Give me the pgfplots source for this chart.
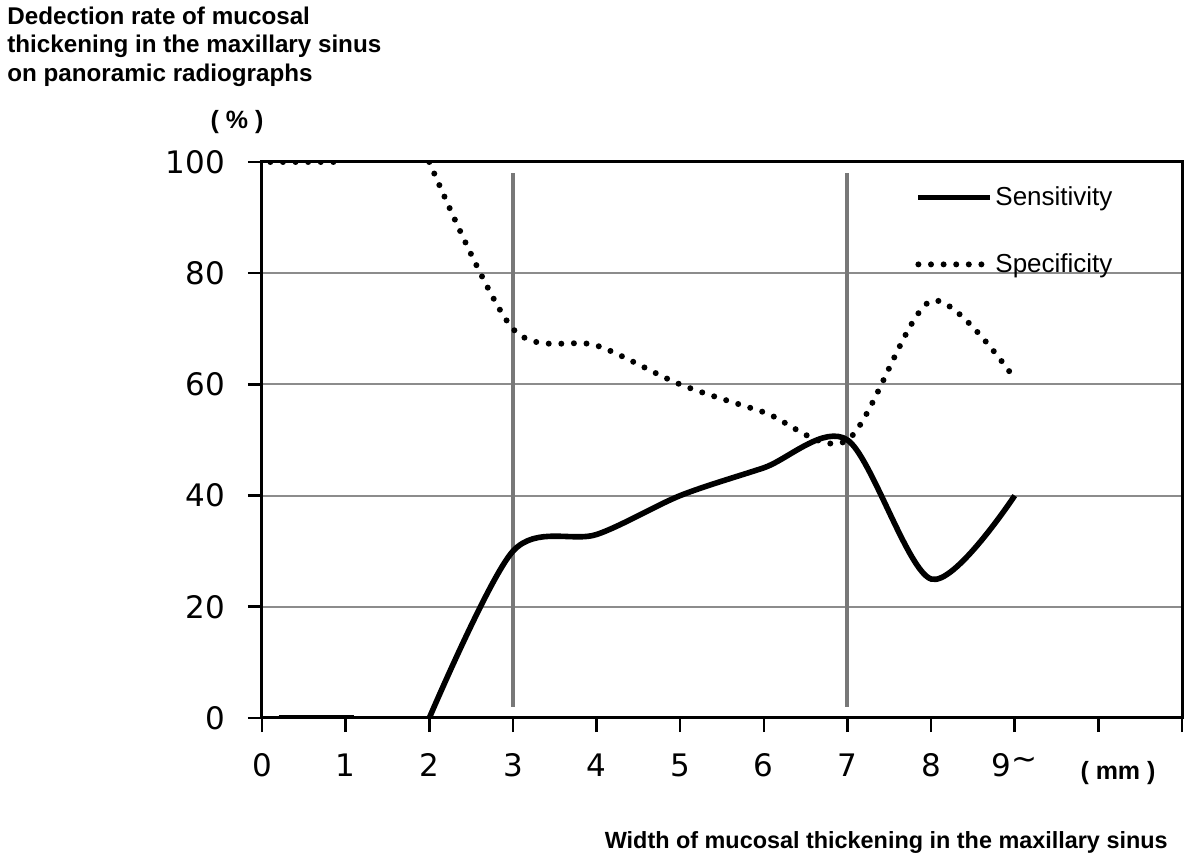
\documentclass[border=0pt]{standalone}
\usepackage{fontspec}
\setmainfont{Liberation Sans}
\newfontfamily\tickfont{DejaVu Sans}
\usepackage{pgfplots}
\pgfplotsset{compat=1.18}
\definecolor{gridgray}{RGB}{140,140,140}
\definecolor{vgray}{RGB}{120,120,120}
\begin{document}
\begin{tikzpicture}
\useasboundingbox (-131pt,-72pt) rectangle (469pt,359pt);
\begin{axis}[
  at={(0pt,0pt)}, anchor=south west,
  scale only axis, width=460pt, height=278pt,
  xmin=0, xmax=11, ymin=0, ymax=100,
  xtick={0,...,11},
  xticklabels={0,1,2,3,4,5,6,7,8,{9\raisebox{0.45ex}{\textasciitilde}},{},{}},
  ytick={0,20,...,100},
  tick pos=left, tick align=outside, major tick length=7pt,
  every tick/.style={black, line width=1.3pt},
  axis line style={line width=1.5pt},
  ymajorgrids, grid style={gridgray, line width=1pt},
  tick label style={font=\tickfont\fontsize{15.5}{18}\selectfont},
  xticklabel style={text height=11.3pt, text depth=0pt, yshift=-7.5pt},
  yticklabel style={xshift=-8pt},
  /pgf/number format/assume math mode=true,
  legend style={draw=none, fill=none, at={(rel axis cs:0.7098,0.96)}, anchor=north west,
    inner sep=0pt, row sep=20.5pt, font=\fontsize{13}{15}\selectfont, nodes={inner sep=1pt}},
  legend cell align=left,
  legend image code/.code={\draw[#1] (0pt,0pt) -- (36pt,0pt);},
]
\addplot[vgray, line width=2pt, forget plot] coordinates {(3,2) (3,98)};
\addplot[vgray, line width=2pt, forget plot] coordinates {(7,2) (7,98)};
\addplot[black, line width=2.8pt, forget plot] coordinates {(0.2,0) (1.1,0)};
\addplot[black, line width=3pt, line cap=round, dash pattern=on 0pt off 6.3pt, forget plot] coordinates {(0.1,100) (1,100)};
\addplot[black, line width=2.8pt, smooth] coordinates {(2,0) (3,30) (4,33) (5,40) (6,45) (7,50) (8,25) (9,40)};
\addlegendentry{Sensitivity}
\addplot[black, line width=3pt, line cap=round, dash pattern=on 0pt off 6.3pt, smooth] coordinates {(2,100) (3,70) (4,67) (5,60) (6,55) (7,50) (8,75) (9,61)};
\addlegendentry{Specificity}
\end{axis}
\node[anchor=base west, inner sep=0pt, font=\bfseries\fontsize{12.1}{14}\selectfont] at (-127.5pt,346.5pt) {Dedection rate of mucosal};
\node[anchor=base west, inner sep=0pt, font=\bfseries\fontsize{12.1}{14}\selectfont] at (-127.5pt,332.5pt) {thickening in the maxillary sinus};
\node[anchor=base west, inner sep=0pt, font=\bfseries\fontsize{12.1}{14}\selectfont] at (-127.5pt,318pt) {on panoramic radiographs};
\node[inner sep=0pt, font=\bfseries\fontsize{12.5}{14}\selectfont] at (-12.5pt,298pt) {( \% )};
\node[inner sep=0pt, font=\bfseries\fontsize{12.5}{14}\selectfont] at (428pt,-27.5pt) {( mm )};
\node[anchor=base east, inner sep=0pt, font=\bfseries\fontsize{11.7}{14}\selectfont] at (453pt,-65.5pt) {Width of mucosal thickening in the maxillary sinus};
\end{tikzpicture}
\end{document}
